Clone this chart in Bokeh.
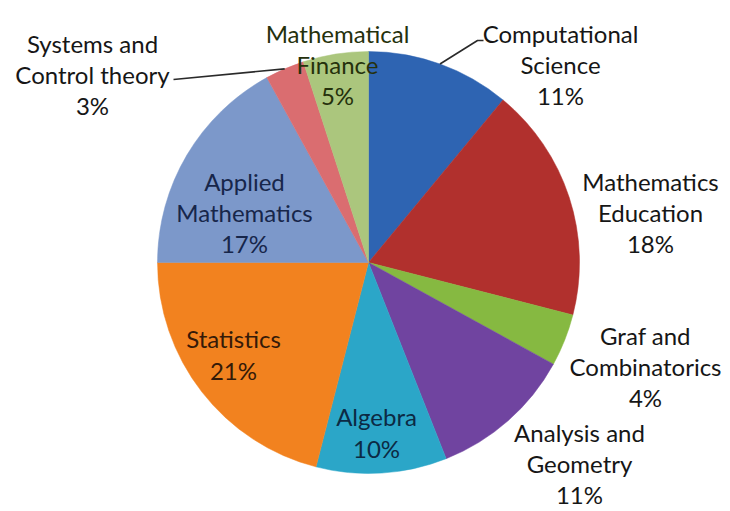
import math
from bokeh.plotting import figure
from bokeh.models import Range1d, ColumnDataSource
from bokeh.core.properties import value
from bokeh.embed import file_html
from bokeh.resources import INLINE

# ---- data ----
categories = [
    "Computational\nScience",
    "Mathematics\nEducation",
    "Graf and\nCombinatorics",
    "Analysis and\nGeometry",
    "Algebra",
    "Statistics",
    "Applied\nMathematics",
    "Systems and\nControl theory",
    "Mathematical\nFinance",
]
percents = [11, 18, 4, 11, 10, 21, 17, 3, 5]
colors = ["#2E64B2", "#B1302D", "#86B941", "#7044A0", "#2BA6C8",
          "#F2821F", "#7C98CA", "#DA6D70", "#ABC67D"]
text_colors = ["#161616", "#161616", "#161616", "#161616", "#0c2a44",
               "#351a08", "#17264a", "#161616", "#25310c"]

# ---- layout (reference pixel coordinates) ----
W, H = 730, 511
CX, CY, R = 368, 262, 211
label_pos = [(560, 64), (650, 212), (645, 366), (579, 463), (376, 432),
             (233, 354), (244, 212), (92, 74), (337, 64)]


def fy(y):
    # reference pixel y -> data y (data y up)
    return H - y


p = figure(width=W, height=H, output_backend="svg", toolbar_location=None,
           x_range=Range1d(0, W), y_range=Range1d(0, H),
           min_border=0, title=None)
p.axis.visible = False
p.grid.visible = False
p.outline_line_color = None
p.background_fill_color = "white"
p.border_fill_color = "white"

total = float(sum(percents))
starts, ends, mids = [], [], []
cum = 0.0
for v in percents:
    a0 = math.pi / 2 - 2 * math.pi * cum / total
    cum += v
    a1 = math.pi / 2 - 2 * math.pi * cum / total
    starts.append(a0)
    ends.append(a1)
    mids.append((a0 + a1) / 2)

src = ColumnDataSource(dict(start=starts, end=ends, color=colors))
p.wedge(x=CX, y=fy(CY), radius=R, start_angle="start", end_angle="end",
        direction="clock", fill_color="color", line_color="color",
        line_width=0.5, source=src)


def edge_point(i):
    return CX + R * math.cos(mids[i]), fy(CY) + R * math.sin(mids[i])


# leader lines for the two labels that sit off their slices
ex, ey = edge_point(7)
p.line(x=[173, ex], y=[fy(79), ey], line_color="#2a2a2a", line_width=1.6)
ex, ey = edge_point(0)
p.line(x=[ex, 477, 483], y=[ey, fy(40), fy(40)], line_color="#2a2a2a",
       line_width=1.6)

texts = [f"{c}\n{v}%" for c, v in zip(categories, percents)]
lsrc = ColumnDataSource(dict(x=[q[0] for q in label_pos],
                             y=[fy(q[1]) for q in label_pos],
                             text=texts, color=text_colors))
p.text(x="x", y="y", text="text", source=lsrc, text_align="center",
       text_baseline="middle", text_font=value("Lato"),
       text_font_size="24px", text_color="color", text_line_height=1.07)

open("out.html", "w").write(file_html(p, INLINE))
